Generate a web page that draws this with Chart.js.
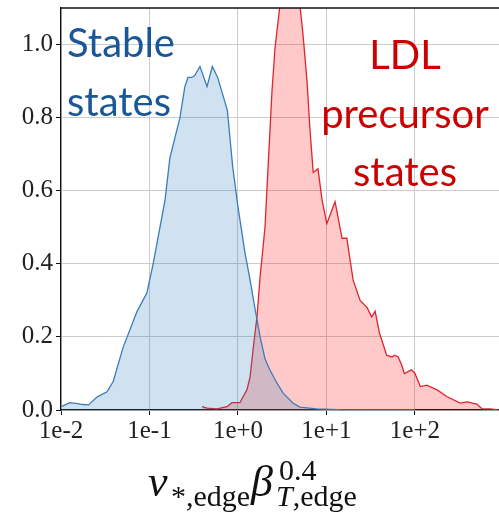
<!DOCTYPE html>
<html lang="en">
<head>
  <meta charset="UTF-8" />
  <title>Edge collisionality distribution</title>
  <style>
    body { margin: 0; background: #fff; }
    #wrap { position: relative; width: 499px; height: 514px; overflow: hidden; }
    canvas { position: absolute; left: 0; top: 0; }
    .note {
      position: absolute;
      font-family: Lato, "Open Sans", sans-serif;
      font-size: 40px;
      line-height: 59px;
      white-space: nowrap;
    }
    #stable { left: 67px; top: 13px; color: #1a5796; }
    #ldl { left: 305px; width: 200px; top: 25px; color: #cc0000; text-align: center; line-height: 58.5px; }
    .m { position: absolute; font-family: "Liberation Serif", serif; color: #111; white-space: nowrap; }
    .big { font-size: 44px; line-height: 44px; font-style: italic; }
    .small { font-size: 30px; line-height: 30px; }
  </style>
  <script src="https://cdn.jsdelivr.net/npm/chart.js"></script>
</head>
<body>
<div id="wrap">
  <canvas id="chart" width="499" height="514"></canvas>
  <div class="note" id="stable">Stable<br>states</div>
  <div class="note" id="ldl">LDL<br>precursor<br>states</div>
  <!-- x axis title: nu_{*,edge} beta^{0.4}_{T,edge} -->
  <span class="m big" style="left:148px; top:460px;">ν</span>
  <span class="m small" style="left:171px; top:481px;">*,edge</span>
  <span class="m big" style="left:251px; top:460px;">β</span>
  <span class="m small" style="left:279px; top:455px;">0.4</span>
  <span class="m small" style="left:276px; top:481px;"><i>T</i>,edge</span>
</div>

<script>
  // stable states (blue)
  const blueX = [0.0102, 0.0126, 0.0148, 0.0178, 0.0205, 0.0257, 0.0331, 0.0389, 0.0501, 0.0724,
    0.0933, 0.110, 0.150, 0.170, 0.221, 0.251, 0.272, 0.302, 0.324, 0.372, 0.447, 0.513, 0.589,
    0.759, 0.871, 1.00, 1.20, 1.36, 1.55, 1.78, 2.02, 2.29, 2.75, 3.24, 4.17, 5.01, 7.76, 14.1, 100];
  const blueY = [0.01, 0.02, 0.018, 0.015, 0.014, 0.036, 0.05, 0.078, 0.17, 0.27,
    0.32, 0.40, 0.575, 0.69, 0.80, 0.885, 0.91, 0.91, 0.915, 0.94, 0.885, 0.94, 0.91,
    0.82, 0.666, 0.556, 0.43, 0.36, 0.28, 0.20, 0.14, 0.11, 0.074, 0.046, 0.019, 0.008, 0.003, 0.001, 0.0];

  // LDL precursor states (red)
  const redX = [0.392, 0.447, 0.579, 0.752, 0.855, 1.05, 1.26, 1.37, 1.48, 1.64, 1.78, 1.91, 2.02,
    2.19, 2.42, 2.62, 2.99, 3.39, 3.89, 4.41, 4.90, 5.42, 6.03, 6.46, 7.08, 8.02, 8.91, 10.1, 12.5,
    15.0, 17.0, 18.5, 20.0, 24.0, 28.8, 32.4, 35.5, 39.8, 47.9, 55.0, 58.9, 64.6, 70.8, 75.9, 91.2,
    100, 115, 136, 178, 229, 324, 389, 501, 575, 708, 871];
  const redY = [0.009, 0.005, 0.003, 0.009, 0.02, 0.02, 0.055, 0.09, 0.165, 0.255, 0.365, 0.44, 0.50,
    0.666, 0.87, 0.99, 1.11, 1.22, 1.26, 1.22, 1.13, 1.03, 0.90, 0.78, 0.65, 0.66, 0.575, 0.51, 0.57,
    0.47, 0.47, 0.41, 0.356, 0.30, 0.28, 0.255, 0.27, 0.21, 0.15, 0.145, 0.15, 0.145, 0.123, 0.10, 0.11,
    0.10, 0.064, 0.068, 0.055, 0.037, 0.019, 0.022, 0.016, 0.003, 0.003, 0.0];

  const xMin = 0.01, xMax = 891;
  const yTicks = [0, 0.2, 0.4, 0.6, 0.8, 1.0];

  function isDecade(v) {
    const l = Math.log10(v);
    return Math.abs(l - Math.round(l)) < 1e-6;
  }
  function decadeLabel(v) {
    const e = Math.round(Math.log10(v));
    return '1e' + (e >= 0 ? '+' : '-') + Math.abs(e);
  }

  const topBorder = {
    id: 'topBorder',
    afterDraw(c) {
      const a = c.chartArea, ctx = c.ctx;
      ctx.save();
      ctx.strokeStyle = '#111';
      ctx.lineWidth = 1.3;
      ctx.beginPath();
      ctx.moveTo(a.left, a.top);
      ctx.lineTo(a.right, a.top);
      ctx.stroke();
      ctx.restore();
    }
  };

  const tickFont = { family: '"Liberation Serif", serif', size: 25 };

  new Chart(document.getElementById('chart'), {
    type: 'line',
    data: {
      datasets: [
        {
          label: 'Stable states',
          data: blueX.map((x, i) => ({ x: x, y: blueY[i] })),
          borderColor: '#3a7dba',
          backgroundColor: 'rgba(31,119,180,0.21)',
          borderWidth: 1.3,
          fill: 'origin',
          pointRadius: 0,
          tension: 0
        },
        {
          label: 'LDL precursor states',
          data: redX.map((x, i) => ({ x: x, y: redY[i] })),
          borderColor: '#e0242c',
          backgroundColor: 'rgba(255,0,0,0.21)',
          borderWidth: 1.3,
          fill: 'origin',
          pointRadius: 0,
          tension: 0
        }
      ]
    },
    options: {
      responsive: false,
      animation: false,
      layout: { padding: { top: 8, right: 0, left: 0, bottom: 0 } },
      plugins: { legend: { display: false }, tooltip: { enabled: false } },
      scales: {
        x: {
          type: 'logarithmic',
          min: xMin,
          max: xMax,
          afterFit(s) { s.height = 104; s.paddingLeft = 0; s.paddingRight = 0; },
          border: { display: true, color: '#111', width: 1.3 },
          grid: {
            color: ctx => isDecade(ctx.tick.value) ? '#cccccc' : 'rgba(0,0,0,0)',
            tickColor: ctx => isDecade(ctx.tick.value) ? '#111' : 'rgba(0,0,0,0)',
            tickLength: 5,
            lineWidth: 1
          },
          ticks: {
            autoSkip: false,
            maxRotation: 0,
            padding: 1,
            color: '#222',
            font: tickFont,
            callback: v => isDecade(v) ? decadeLabel(v) : ''
          }
        },
        y: {
          min: 0,
          max: 1.1,
          afterFit(s) { s.width = 61; s.paddingTop = 0; s.paddingBottom = 0; },
          afterBuildTicks(s) { s.ticks = yTicks.map(v => ({ value: v })); },
          border: { display: true, color: '#111', width: 1.3 },
          grid: { color: '#cccccc', tickColor: '#111', tickLength: 5, lineWidth: 1 },
          ticks: {
            padding: 3,
            color: '#222',
            font: tickFont,
            callback: v => v.toFixed(1)
          }
        }
      }
    },
    plugins: [topBorder]
  });
</script>
</body>
</html>
